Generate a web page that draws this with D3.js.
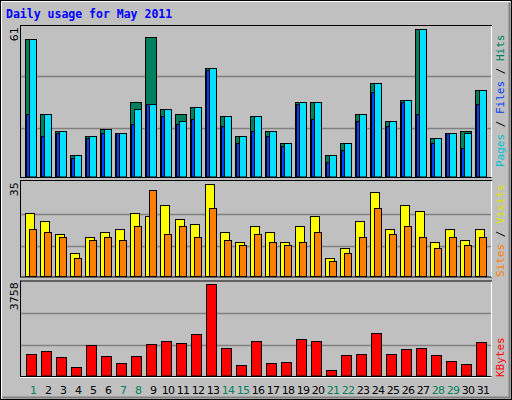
<!DOCTYPE html>
<html><head><meta charset="utf-8">
<script src="https://cdn.jsdelivr.net/npm/d3@7"></script>
<style>body{margin:0;background:#fff}</style></head>
<body><svg id="c" width="512" height="400"></svg>
<script>
const days = d3.range(1,32);
const weekends = [1,7,8,14,15,21,22,28,29];
const hits  = [57,26,19,9,17,20,18,31,58,28,26,29,45,25,17,25,19,14,31,31,9,14,26,39,23,32,61,16,18,19,36];
const files = [57,26,19,9,17,20,18,28,30,28,23,29,45,25,17,25,19,14,31,31,9,14,26,39,23,32,61,16,18,18,36];
const pages = [26,17,18,8,16,18,18,22,30,25,22,24,44,21,14,19,17,13,30,24,6,11,23,35,21,31,26,14,18,12,30];
const sites = [24,21,16,9,15,17,18,24,23,27,22,20,35,17,13,19,17,13,19,23,7,11,21,32,18,27,25,13,18,14,18];
const visits= [18,17,15,7,14,15,14,19,33,16,19,15,26,14,12,16,13,12,13,17,6,9,15,26,16,19,15,11,15,12,15];
const kbytes= [919,1042,796,384,1289,837,549,837,1331,1454,1372,1701,3758,1166,466,1454,549,590,1536,1454,261,878,919,1742,919,1125,1166,878,631,508,1413];
const maxHits=61, maxSites=35, maxKB=3758;

const svg=d3.select("#c");
svg.append("rect").attr("x",0).attr("y",0).attr("width",512).attr("height",400).attr("fill","#c0c0c0");
svg.append("rect").attr("x",0.5).attr("y",0.5).attr("width",511).attr("height",399).attr("fill","none").attr("stroke","#000");
svg.append("path").attr("d","M1.5,398.5V1.5H510.5").attr("fill","none").attr("stroke","#fff");
svg.append("path").attr("d","M2.5,397.5H509.5V2.5").attr("fill","none").attr("stroke","#808080").attr("stroke-width",2);
svg.append("text").attr("x",6).attr("y",18).attr("fill","#0000ff").attr("font-family","DejaVu Sans Mono").attr("font-weight","bold").attr("font-size",11.5).text("Daily usage for May 2011");

const x=d3.scaleLinear().domain([1,2]).range([25,40]);
const panels=[{top:25,bot:177,axisTop:29.3,max:maxHits,label:"61"},
              {top:180,bot:276.5,axisTop:184.3,max:maxSites,label:"35"},
              {top:280.5,bot:376,axisTop:284.3,max:maxKB,label:"3758"}];
panels.forEach(p=>{
  p.y=d3.scaleLinear().domain([0,p.max]).range([p.bot,p.axisTop]);
  svg.append("rect").attr("x",20.5).attr("y",p.top+.5).attr("width",471).attr("height",p.bot-p.top).attr("fill","#c0c0c0").attr("stroke","#000");
  svg.append("path").attr("d",`M491.5,${p.top+1}V${p.bot+.5}`).attr("stroke","#fff");
  [0.335,0.683].forEach(f=>svg.append("line").attr("x1",21).attr("x2",491).attr("y1",Math.round(p.y(p.max*f))+.5).attr("y2",Math.round(p.y(p.max*f))+.5).attr("stroke","#808080").attr("stroke-width",1.5));
  const ty=p.axisTop-2;
  svg.append("text").attr("transform",`translate(18,${ty}) rotate(-90)`).attr("text-anchor","end").attr("font-family","DejaVu Sans").attr("font-size",11).text(p.label);
});
svg.append("path").attr("d","M20.5,377.5H491.5").attr("stroke","#fff");

function bars(panel,data,dx,w,color){
  svg.append("g").selectAll("rect").data(data).join("rect")
   .attr("x",(d,i)=>x(days[i])+dx+.5).attr("width",w)
   .attr("y",d=>Math.round(panel.y(d))+.5).attr("height",d=>panel.bot-Math.round(panel.y(d))-.5)
   .attr("fill",color).attr("stroke","#000");
}
bars(panels[0],hits,0,11,"#00805c");
bars(panels[0],files,4,7,"#00e0ff");
bars(panels[0],pages,1,3,"#0040ff");
bars(panels[1],sites,0,9,"#ffff00");
bars(panels[1],visits,4,7,"#ff8000");
bars(panels[2],kbytes,1,10,"#ff0000");

svg.append("g").selectAll("text").data(days).join("text")
  .attr("x",d=>x(d)+8).attr("y",394).attr("text-anchor","middle")
  .attr("font-family","DejaVu Sans").attr("font-size",11).attr("letter-spacing",-0.8)
  .attr("fill",d=>weekends.includes(d)?"#00805c":"#000").text(d=>d);

function vlabel(parts,yEnd){
  const t=svg.append("text").attr("transform",`translate(504,${yEnd}) rotate(-90)`).attr("font-family","DejaVu Sans Mono").attr("font-size",11);
  parts.forEach(([s,c])=>t.append("tspan").attr("fill",c).text(s));
}
vlabel([["Pages","#00c0d0"],[" / ","#000"],["Files","#0040ff"],[" / ","#000"],["Hits","#00805c"]],167);
vlabel([["Sites","#ff8000"],[" / ","#000"],["Visits","#e0e000"]],277);
vlabel([["KBytes","#ff0000"]],377);
</script></body></html>
